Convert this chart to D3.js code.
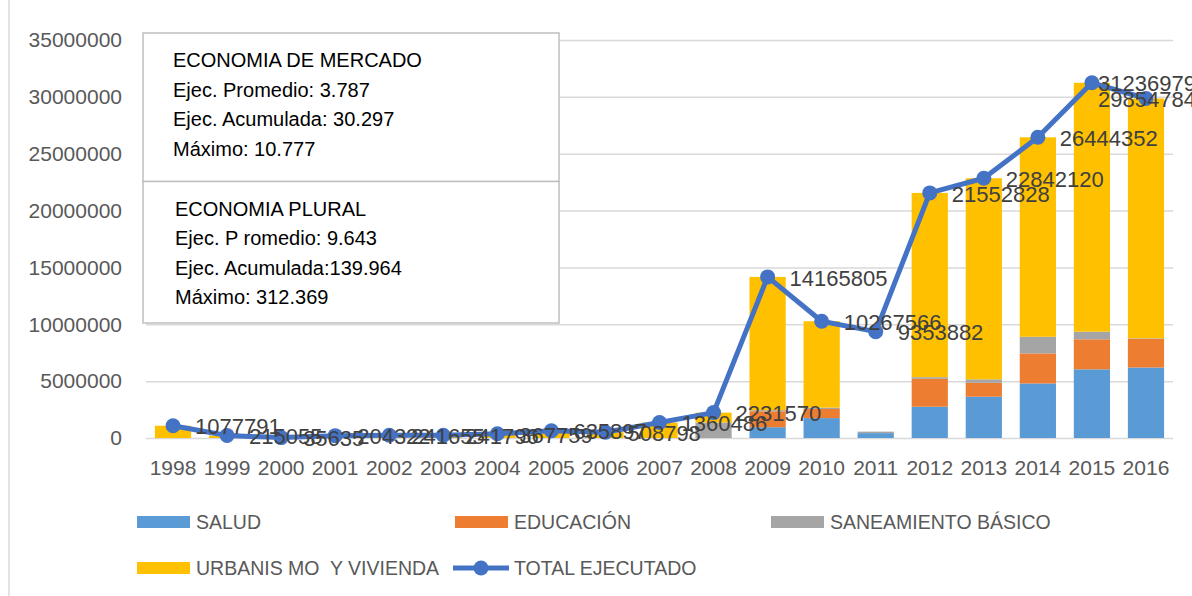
<!DOCTYPE html>
<html>
<head>
<meta charset="utf-8">
<script src="https://cdn.jsdelivr.net/npm/d3@7"></script>
<style>
    body { margin: 0; background: #fff; }
    text { font-family: "Liberation Sans", Arial, sans-serif; white-space: pre; }
</style>
</head>
<body>
<script>
// data
const years = ["1998", "1999", "2000", "2001", "2002", "2003", "2004", "2005", "2006", "2007",
    "2008", "2009", "2010", "2011", "2012", "2013", "2014", "2015", "2016"];
const salud = [0, 0, 0, 0, 0, 0, 0, 0, 0, 0,
    0, 950000, 1750000, 430000, 2750000, 3630000, 4800000, 6040000, 6200000];
const educacion = [0, 0, 0, 0, 0, 0, 0, 0, 0, 0,
    0, 1400000, 800000, 0, 2450000, 1230000, 2640000, 2640000, 2520000];
const saneamiento = [0, 0, 0, 0, 0, 0, 0, 0, 0, 0,
    1360000, 100000, 120000, 130000, 150000, 300000, 1460000, 670000, 50000];
const urbanismo = [1077791, 215055, 35635, 204322, 241655, 241796, 367759, 635897, 508798, 1360486,
    871570, 11715805, 7597566, 0, 16202828, 17682120, 17544352, 21886979, 21084784];
const total = [1077791, 215055, 35635, 204322, 241655, 241796, 367759, 635897, 508798, 1360486,
    2231570, 14165805, 10267566, 9353882, 21552828, 22842120, 26444352, 31236979, 29854784];

const seriesNames = ["SALUD", "EDUCACIÓN", "SANEAMIENTO BÁSICO", "URBANIS MO  Y VIVIENDA"];
const seriesColors = ["#5B9BD5", "#ED7D31", "#A5A5A5", "#FFC000"];
const lineName = "TOTAL EJECUTADO";
const lineColor = "#4472C4";
const yTicks = [0, 5000000, 10000000, 15000000, 20000000, 25000000, 30000000, 35000000];

const boxMercado = ["ECONOMIA DE MERCADO", "Ejec. Promedio: 3.787", "Ejec. Acumulada: 30.297", "Máximo: 10.777"];
const boxPlural = ["ECONOMIA PLURAL", "Ejec. P romedio: 9.643", "Ejec. Acumulada:139.964", "Máximo: 312.369"];

const width = 1192, height = 596;
const plot = { left: 146, right: 1173, top: 40, bottom: 438 };

const svg = d3.select("body").append("svg")
    .attr("width", width)
    .attr("height", height);

// outer chart frame edge
svg.append("line")
    .attr("x1", 9).attr("x2", 9)
    .attr("y1", 0).attr("y2", height)
    .attr("stroke", "#D9D9D9").attr("stroke-width", 1.5);

const x = d3.scaleBand()
    .domain(years)
    .range([plot.left, plot.right])
    .paddingInner(0.33)
    .paddingOuter(0.165);

const y = d3.scaleLinear()
    .domain([0, 35000000])
    .range([plot.bottom, plot.top]);

// gridlines + y labels
const yAxis = svg.append("g")
    .attr("transform", `translate(${plot.left},0)`)
    .call(d3.axisLeft(y).tickValues(yTicks).tickSize(-(plot.right - plot.left)).tickPadding(24).tickFormat(d3.format("d")));
yAxis.select(".domain").remove();
yAxis.selectAll(".tick line").attr("stroke", "#D9D9D9").attr("stroke-width", 1.5);
yAxis.selectAll(".tick text")
    .attr("fill", "#595959")
    .style("font-size", "21px");

// x labels
const xAxis = svg.append("g")
    .attr("transform", `translate(0,${plot.bottom})`)
    .call(d3.axisBottom(x).tickSize(0).tickPadding(22));
xAxis.select(".domain").remove();
xAxis.selectAll(".tick text")
    .attr("fill", "#595959")
    .style("font-size", "21px");

// annotation boxes
function drawBox(lines, top, bottom, tx) {
    svg.append("rect")
        .attr("x", 143).attr("y", top)
        .attr("width", 559 - 143).attr("height", bottom - top)
        .attr("fill", "#fff")
        .attr("stroke", "#BFBFBF").attr("stroke-width", 1.5);
    svg.append("g").selectAll("text")
        .data(lines)
        .join("text")
        .attr("x", tx)
        .attr("y", (d, i) => top + 27 + i * 29.5)
        .attr("dy", "0.35em")
        .attr("fill", "#000")
        .style("font-size", "20px")
        .text(d => d);
}
drawBox(boxMercado, 33, 181.5, 173);
drawBox(boxPlural, 181.5, 323, 175);

// stacked bars
const rows = years.map((yr, i) => ({
    year: yr, s0: salud[i], s1: educacion[i], s2: saneamiento[i], s3: urbanismo[i]
}));
const stack = d3.stack().keys(["s0", "s1", "s2", "s3"])(rows);

svg.append("g")
    .selectAll("g")
    .data(stack)
    .join("g")
    .attr("fill", (d, i) => seriesColors[i])
    .selectAll("rect")
    .data(d => d)
    .join("rect")
    .attr("x", d => x(d.data.year))
    .attr("y", d => y(d[1]))
    .attr("width", x.bandwidth())
    .attr("height", d => y(d[0]) - y(d[1]));

// total line
const pts = years.map((yr, i) => ({ year: yr, v: total[i] }));
const cx = d => x(d.year) + x.bandwidth() / 2;

svg.append("path")
    .datum(pts)
    .attr("fill", "none")
    .attr("stroke", lineColor)
    .attr("stroke-width", 5)
    .attr("stroke-linejoin", "round")
    .attr("d", d3.line().x(cx).y(d => y(d.v)));

svg.append("g")
    .selectAll("circle")
    .data(pts)
    .join("circle")
    .attr("cx", cx)
    .attr("cy", d => y(d.v))
    .attr("r", 7.5)
    .attr("fill", lineColor);

// data labels, right of the point, pushed back inside the chart area near the edge
const labelMaxX = 1098;
svg.append("g")
    .selectAll("text")
    .data(pts)
    .join("text")
    .attr("x", d => Math.min(cx(d) + 22, labelMaxX))
    .attr("y", d => y(d.v) + 1)
    .attr("dy", "0.35em")
    .attr("fill", "#404040")
    .style("font-size", "22px")
    .text(d => d.v);

// legend
const legendItems = [
    { name: seriesNames[0], color: seriesColors[0], x: 137, y: 522 },
    { name: seriesNames[1], color: seriesColors[1], x: 455, y: 522 },
    { name: seriesNames[2], color: seriesColors[2], x: 771, y: 522 },
    { name: seriesNames[3], color: seriesColors[3], x: 137, y: 568 }
];
const legend = svg.append("g");
legend.selectAll("rect")
    .data(legendItems)
    .join("rect")
    .attr("x", d => d.x).attr("y", d => d.y - 6)
    .attr("width", 53).attr("height", 12)
    .attr("fill", d => d.color);
legend.selectAll("text.sw")
    .data(legendItems)
    .join("text")
    .attr("x", d => d.x + 59).attr("y", d => d.y)
    .attr("dy", "0.35em")
    .attr("fill", "#595959")
    .style("font-size", "19.5px")
    .text(d => d.name);

legend.append("line")
    .attr("x1", 453).attr("x2", 509)
    .attr("y1", 568).attr("y2", 568)
    .attr("stroke", lineColor).attr("stroke-width", 5);
legend.append("circle")
    .attr("cx", 481).attr("cy", 568).attr("r", 7.5)
    .attr("fill", lineColor);
legend.append("text")
    .attr("x", 514).attr("y", 568)
    .attr("dy", "0.35em")
    .attr("fill", "#595959")
    .style("font-size", "19.5px")
    .text(lineName);
</script>
</body>
</html>
